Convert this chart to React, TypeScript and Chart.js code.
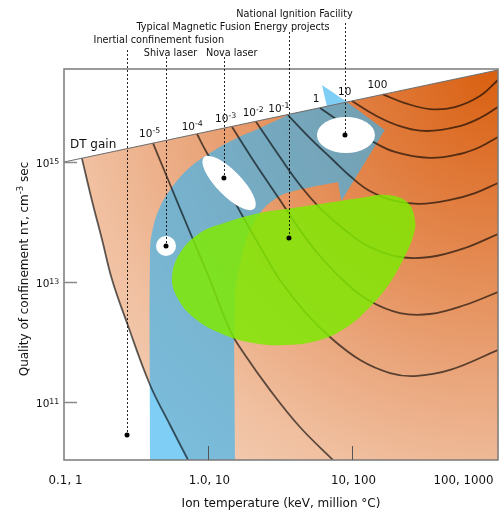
import React, { useEffect, useRef } from "react";
import { Chart, registerables } from "chart.js";

Chart.register(...registerables);

const FONT = '"DejaVu Sans", sans-serif';

// ---------- axes ----------
const xRange = [0.1, 103.3]; // ion temperature, keV
const yRange = [1.08e10, 3.55e16]; // n tau, cm^-3 s
const xTickValues = [0.1, 1, 10, 100];
const xTickLabels = ["0.1, 1", "1.0, 10", "10, 100", "100, 1000"];
const xTickMarks = [1, 10];
const yTickValues = [1e11, 1e13, 1e15];
const yTickExponents = ["11", "13", "15"];

// ---------- DT gain boundary line ----------
const dtGainLine = [
  [0.1, 1e15],
  [103.3, 3.42e16],
];

// ---------- gain contours [T keV, n tau] ----------
const gainEdge = [
  [0.133, 1.16e15], [0.156, 2.33e14], [0.184, 5.01e13], [0.216, 1.08e13],
  [0.274, 2.07e12], [0.396, 1.92e11], [0.545, 4.14e10], [0.727, 1.08e10],
];
const gain1e_5 = [
  [0.415, 2.07e15], [0.519, 5.62e14], [0.774, 5.62e13], [1.0, 1.31e13],
  [1.42, 1.58e12], [1.75, 6.81e11], [2.7, 1.58e11], [4.35, 3.83e10], [7.38, 1.08e10],
];
const gain1e_4 = [
  [0.839, 2.93e15], [0.984, 1.41e15], [1.21, 6.07e14], [1.72, 1.31e14],
  [2.37, 3.42e13], [3.16, 1.08e13], [4.72, 3.16e12], [7.03, 1.21e12],
  [11.4, 5.01e11], [18.4, 3.04e11], [27.4, 2.71e11], [48.0, 3.42e11], [103.3, 7.36e11],
];
const gain1e_3 = [
  [1.47, 3.83e15], [2.12, 9.62e14], [3.16, 2.33e14], [4.35, 7.36e13],
  [6.0, 2.71e13], [8.94, 1e13], [13.3, 4.82e12], [21.5, 3.04e12],
  [34.8, 2.93e12], [60.9, 4.14e12], [103.3, 6.81e12],
];
const gain1e_2 = [
  [2.15, 4.75e15], [3.16, 1.21e15], [4.35, 4.14e14], [6.0, 1.71e14],
  [8.94, 7.36e13], [13.3, 3.83e13], [21.5, 2.61e13], [34.8, 2.61e13],
  [60.9, 3.69e13], [103.3, 6.31e13],
];
const gain1e_1 = [
  [3.59, 6.07e15], [5.11, 2.51e15], [7.38, 1.08e15], [9.68, 5.85e14],
  [13.3, 3.29e14], [19.9, 2.24e14], [29.6, 2.0e14], [48.0, 2.33e14],
  [71.5, 3.04e14], [103.3, 4.47e14],
];
const gain1 = [
  [6.0, 7.94e15], [8.94, 4.14e15], [13.3, 2.33e15], [19.9, 1.47e15],
  [34.8, 1.17e15], [56.2, 1.36e15], [77.4, 1.78e15], [103.3, 2.61e15],
];
const gain10 = [
  [10, 1.04e16], [14.4, 6.07e15], [21.5, 3.98e15], [33.2, 3.29e15],
  [56.2, 3.98e15], [77.4, 5.41e15], [103.3, 8.25e15],
];
const gain100 = [
  [16.4, 1.34e16], [23.3, 9.62e15], [34.8, 7.64e15], [51.9, 8.25e15],
  [77.4, 1.26e16], [103.3, 2.33e16],
];

// contour labels (left / baseline anchor)
const gainLabelBase = ["10", "10", "10", "10", "10", "1", "10", "100"];
const gainLabelExp = ["-5", "-4", "-3", "-2", "-1", "", "", ""];
const gainLabelT = [0.332, 0.656, 1.12, 1.74, 2.62, 5.33, 8.0, 12.8];
const gainLabelNT = [2.61e15, 3.42e15, 4.69e15, 5.84e15, 6.74e15, 1.01e16, 1.31e16, 1.69e16];
const dtGainLabelAt = [0.11, 1.74e15];

// ---------- regions (third value 1 = sharp corner) ----------
const orangeRegion = [
  [0.133, 1.16e15, 1], [0.156, 2.33e14], [0.184, 5.01e13], [0.216, 1.08e13],
  [0.274, 2.07e12], [0.396, 1.92e11], [0.545, 4.14e10], [0.727, 1.08e10],
  [0.76, 5e9, 1], [150, 5e9, 1], [150, 4.14e16, 1],
];
const magneticRegion = [
  [0.396, 1e10, 1], [0.396, 3.42e13], [0.415, 7.94e13], [0.464, 1.78e14],
  [0.545, 3.42e14], [0.715, 7.36e14], [1.03, 1.41e15], [1.54, 2.42e15],
  [2.3, 3.69e15], [3.71, 6.3e15, 1], [6.7, 8.49e15, 1], [6.19, 1.92e16, 1],
  [9.23, 1.0e16, 1], [16.9, 3.42e15, 1], [8.53, 2.33e14, 1], [4.35, 2.33e12, 1],
  [1.54, 1.58e12, 1], [1.54, 1e10, 1],
];
const mfePatch = [
  [1.54, 1e10, 1], [1.54, 5.01e12], [1.67, 1.92e13], [1.9, 6.07e13],
  [2.3, 1.41e14], [2.92, 2.42e14], [3.71, 3.16e14], [8.0, 4.64e14, 1],
  [8.39, 2.42e14, 1], [15.6, 5.01e12, 1], [29.6, 1e10, 1],
];
const ignitionRegion = [
  [3.89, 1.71e14], [6.7, 2.07e14], [11.4, 2.51e14], [17.5, 2.82e14],
  [24.1, 2.15e14], [27.4, 1.08e14], [26.5, 5.62e13], [22.6, 2.33e13],
  [17.5, 8.25e12], [12.7, 3.42e12], [9.23, 1.78e12], [6.0, 1.08e12],
  [3.54, 8.91e11], [2.05, 9.62e11], [1.21, 1.41e12], [0.787, 2.61e12],
  [0.609, 5.62e12], [0.562, 1.21e13], [0.639, 3.04e13], [0.88, 6.56e13],
  [1.36, 1e14], [2.3, 1.41e14],
];

// ---------- experiments ----------
const experimentNames = [
  "Inertial confinement fusion",
  "Shiva laser",
  "Nova laser",
  "Typical Magnetic Fusion Energy projects",
  "National Ignition Facility",
];
const experimentT = [0.274, 0.511, 1.29, 3.65, 8.94];
const experimentNT = [2.82e10, 3.98e13, 5.41e14, 5.41e13, 2.82e15];

// white result spots: Shiva, Nova, NIF
const spotT = [0.511, 1.4, 9.08];
const spotNT = [3.98e13, 4.47e14, 2.82e15];

// ---------- styles / layout ----------
const spotShape = [
  { rx: 10, ry: 10, rot: 0 },
  { rx: 36, ry: 12.5, rot: 45.6 },
  { rx: 29, ry: 18, rot: 0 },
];
const experimentLabelLayout = [
  { cx: 158.8, base: 43.3, top: 50 },
  { cx: 170.5, base: 55.5, top: 57 },
  { cx: 231.7, base: 55.5, top: 57 },
  { cx: 233, base: 30, top: 32 },
  { cx: 294.5, base: 17.3, top: 23 },
];

const toXY = (pts: number[][]) => pts.map((p) => ({ x: p[0], y: p[1] }));
function polygon(pts: number[][]) {
  const out: { x: number; y: number }[] = [];
  const push = (p: number[]) => {
    out.push({ x: p[0], y: p[1] });
    if (p[2]) out.push({ x: p[0], y: p[1] });
  };
  pts.forEach(push);
  push(pts[0]);
  return out;
}

function orangeFill(c: any) {
  const chart = c.chart;
  const a = chart.chartArea;
  if (!a) return "#eaa67c";
  const g = chart.ctx.createRadialGradient(a.right, a.top, 0, a.right, a.top, 520);
  g.addColorStop(0, "#d95f0f");
  g.addColorStop(0.25, "#e07b3c");
  g.addColorStop(0.45, "#e6935f");
  g.addColorStop(0.6, "#eaa67c");
  g.addColorStop(0.8, "#f0bf9f");
  g.addColorStop(1, "#f4d0b8");
  return g;
}

type Run = { t: string; size: number; rise?: number };
function drawRuns(ctx: CanvasRenderingContext2D, runs: Run[], x: number, baseline: number, align: "left" | "center" | "right") {
  const ws = runs.map((r) => {
    ctx.font = `${r.size}px ${FONT}`;
    return ctx.measureText(r.t).width;
  });
  const total = ws.reduce((a, b) => a + b, 0);
  let cx = align === "left" ? x : align === "center" ? x - total / 2 : x - total;
  ctx.textAlign = "left";
  ctx.textBaseline = "alphabetic";
  runs.forEach((r, i) => {
    ctx.font = `${r.size}px ${FONT}`;
    ctx.fillText(r.t, cx, baseline - (r.rise || 0));
    cx += ws[i];
  });
}

const overlayPlugin = {
  id: "overlay",
  afterDatasetsDraw(chart: any) {
    const { ctx, chartArea: a, scales } = chart;
    const px = (v: number) => scales.x.getPixelForValue(v);
    const py = (v: number) => scales.y.getPixelForValue(v);
    ctx.save();

    // white result spots
    ctx.fillStyle = "#ffffff";
    spotT.forEach((t, i) => {
      const s = spotShape[i];
      ctx.beginPath();
      ctx.ellipse(px(t), py(spotNT[i]), s.rx, s.ry, (s.rot * Math.PI) / 180, 0, Math.PI * 2);
      ctx.fill();
    });

    // frame
    ctx.strokeStyle = "#7a7a7a";
    ctx.lineWidth = 1.5;
    ctx.strokeRect(a.left, a.top, a.right - a.left, a.bottom - a.top);

    // ticks
    ctx.strokeStyle = "#8a8a8a";
    ctx.lineWidth = 1.5;
    yTickValues.forEach((v) => {
      const y = Math.round(py(v)) + 0.5;
      ctx.beginPath();
      ctx.moveTo(a.left, y);
      ctx.lineTo(a.left + 13, y);
      ctx.stroke();
    });
    ctx.strokeStyle = "#555";
    ctx.lineWidth = 1;
    xTickMarks.forEach((v) => {
      const x = Math.round(px(v)) + 0.5;
      ctx.beginPath();
      ctx.moveTo(x, a.bottom - 14);
      ctx.lineTo(x, a.bottom);
      ctx.stroke();
    });

    // experiment dashed leaders
    ctx.strokeStyle = "rgba(0,0,0,0.85)";
    ctx.lineWidth = 1;
    ctx.setLineDash([2, 2]);
    experimentT.forEach((t, i) => {
      const x = Math.round(px(t)) + 0.5;
      ctx.beginPath();
      ctx.moveTo(x, experimentLabelLayout[i].top);
      ctx.lineTo(x, py(experimentNT[i]));
      ctx.stroke();
    });
    ctx.setLineDash([]);
    ctx.fillStyle = "#000";
    experimentT.forEach((t, i) => {
      ctx.beginPath();
      ctx.arc(px(t), py(experimentNT[i]), 2.5, 0, Math.PI * 2);
      ctx.fill();
    });

    // texts
    ctx.fillStyle = "#111";
    experimentNames.forEach((n, i) => {
      const L = experimentLabelLayout[i];
      drawRuns(ctx, [{ t: n, size: 9.7 }], L.cx, L.base, "center");
    });
    gainLabelBase.forEach((b, i) => {
      const runs: Run[] = [{ t: b, size: 10.5 }];
      if (gainLabelExp[i]) runs.push({ t: gainLabelExp[i], size: 7.8, rise: 4 });
      drawRuns(ctx, runs, px(gainLabelT[i]), py(gainLabelNT[i]), "left");
    });
    drawRuns(ctx, [{ t: "DT gain", size: 12 }], px(dtGainLabelAt[0]), py(dtGainLabelAt[1]), "left");

    // y tick labels
    yTickValues.forEach((v, i) => {
      drawRuns(ctx, [{ t: "10", size: 10.5 }, { t: yTickExponents[i], size: 7.8, rise: 3 }], 36, py(v) + 5, "left");
    });
    // x tick labels
    xTickValues.forEach((v, i) => {
      if (i === xTickValues.length - 1) drawRuns(ctx, [{ t: xTickLabels[i], size: 11.8 }], 493.5, 484, "right");
      else drawRuns(ctx, [{ t: xTickLabels[i], size: 11.8 }], px(v) + 1.5, 484, "center");
    });
    // axis titles
    drawRuns(ctx, [{ t: "Ion temperature (keV, million °C)", size: 12 }], (a.left + a.right) / 2, 506.5, "center");
    ctx.save();
    ctx.translate(28, 269);
    ctx.rotate(-Math.PI / 2);
    drawRuns(ctx, [
      { t: "Quality of confinement nτ, cm", size: 12 },
      { t: "-3", size: 8.5, rise: 5 },
      { t: " sec", size: 12 },
    ], 0, 0, "center");
    ctx.restore();

    ctx.restore();
  },
};

const fillDs = (data: any[], bg: any, order: number, tension: number) => ({
  data,
  showLine: true,
  fill: "shape",
  backgroundColor: bg,
  borderColor: "rgba(0,0,0,0)",
  borderWidth: 0,
  pointRadius: 0,
  tension,
  order,
});
const lineDs = (pts: number[][], order: number) => ({
  data: toXY(pts),
  showLine: true,
  fill: false,
  borderColor: "rgba(0,0,0,0.62)",
  borderWidth: 1.8,
  pointRadius: 0,
  tension: 0.4,
  order,
});

export default function App() {
  const ref = useRef<HTMLCanvasElement>(null);
  useEffect(() => {
    const canvas = ref.current!;
    const contours = [gainEdge, gain1e_5, gain1e_4, gain1e_3, gain1e_2, gain1e_1, gain1, gain10, gain100];
    const chart = new Chart(canvas, {
      type: "scatter",
      data: {
        datasets: [
          fillDs(polygon(orangeRegion), orangeFill, 100, 0.4),
          fillDs(polygon(magneticRegion), "rgba(57,180,241,0.65)", 90, 0.4),
          fillDs(polygon(mfePatch), orangeFill, 80, 0.4),
          ...contours.map((c) => lineDs(c, 70)),
          fillDs(polygon(ignitionRegion), "rgba(127,233,4,0.85)", 60, 0.4),
          {
            data: toXY(dtGainLine),
            showLine: true,
            fill: false,
            borderColor: "#6e6e6e",
            borderWidth: 1.2,
            pointRadius: 0,
            tension: 0,
            order: 50,
          },
        ] as any,
      },
      options: {
        responsive: false,
        animation: false,
        devicePixelRatio: 1,
        events: [],
        layout: { padding: { left: 64, right: 1, top: 69, bottom: 50 } },
        scales: {
          x: { type: "logarithmic", min: xRange[0], max: xRange[1], display: false },
          y: { type: "logarithmic", min: yRange[0], max: yRange[1], display: false },
        },
        plugins: { legend: { display: false }, tooltip: { enabled: false } },
      } as any,
      plugins: [overlayPlugin],
    });
    return () => chart.destroy();
  }, []);
  return (
    <div style={{ position: "absolute", left: 0, top: 0, width: 499, height: 510, background: "#fff" }}>
      <canvas ref={ref} width={499} height={510} style={{ display: "block" }} />
    </div>
  );
}
